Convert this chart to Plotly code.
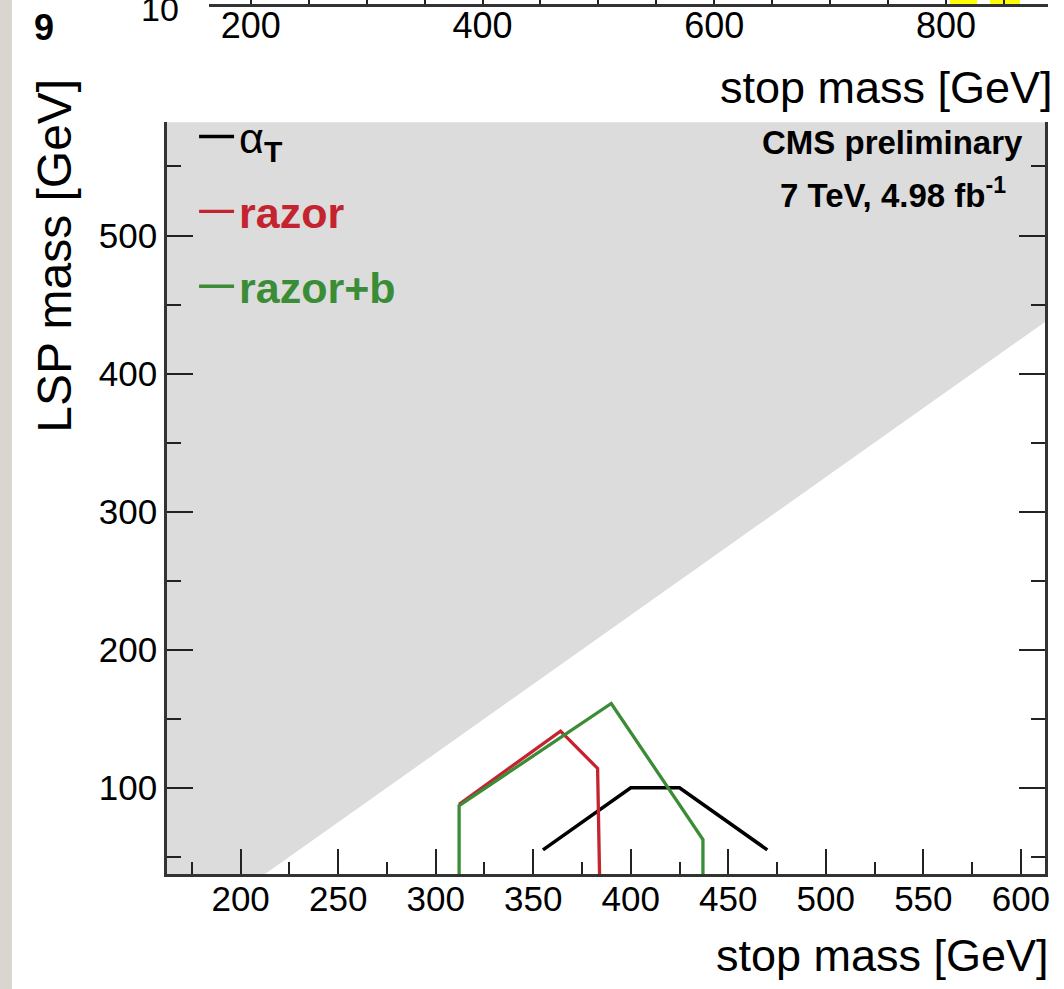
import plotly.graph_objects as go

W, H = 1064, 989

# Exclusion contours in the (stop mass, LSP mass) plane, GeV
alphat_stop = [355, 400, 425, 470]
alphat_lsp = [55, 100, 100, 55]

razor_stop = [312, 364, 383, 384]
razor_lsp = [88, 141, 114, 37.5]

razorb_stop = [312, 312, 390, 437, 437]
razorb_lsp = [37.5, 87, 161, 62.5, 37.5]

# Kinematic boundary m_LSP = m_stop - m_top; the region above it is shaded
m_top = 175

x_range = [162.2, 612.4]
y_range = [37.5, 582]
x_ticks = [200, 250, 300, 350, 400, 450, 500, 550, 600]
x_minor = [175, 225, 275, 325, 375, 425, 475, 525, 575, 625]
y_ticks = [100, 200, 300, 400, 500]
y_minor = [50, 150, 250, 350, 450, 550]

# Lower edge of the panel above (tick labels and band boxes)
upper_range = [164, 888]
upper_ticks = [200, 400, 600, 800]
band_x = [815, 851]
band_w = [24, 26]
band_h = [1, 1]

RED = "#c4242f"
GREEN = "#3b8c37"
SANS = "Liberation Sans, Arial, Helvetica, sans-serif"


def fx(px):
    return px / W


def fy(px):
    return 1 - px / H


# shaded (kinematically forbidden) region, padded beyond the axis ranges
pad = 30
lo_x, hi_x = x_range[0] - pad, x_range[1] + pad
lo_y, hi_y = y_range[0] - pad, y_range[1] + pad
shade_x = [lo_x, lo_y + m_top, hi_x, hi_x, lo_x, lo_x]
shade_y = [lo_y, lo_y, hi_x - m_top, hi_y, hi_y, lo_y]

fig = go.Figure()

fig.add_trace(go.Scatter(
    x=shade_x, y=shade_y, mode="lines", fill="toself",
    fillcolor="#dcdcdc", line=dict(width=0), hoverinfo="skip",
    showlegend=False,
))

fig.add_trace(go.Scatter(
    x=alphat_stop, y=alphat_lsp, mode="lines",
    line=dict(color="black", width=3.5),
    name="α<sub><b>T</b></sub>", legendgroup="a",
))
fig.add_trace(go.Scatter(
    x=razor_stop, y=razor_lsp, mode="lines",
    line=dict(color=RED, width=3.3),
    name=f"<b><span style='color:{RED}'>razor</span></b>", legendgroup="b",
))
fig.add_trace(go.Scatter(
    x=razorb_stop, y=razorb_lsp, mode="lines",
    line=dict(color=GREEN, width=3.3),
    name=f"<b><span style='color:{GREEN}'>razor+b</span></b>", legendgroup="c",
))

# band boxes of the upper panel, peeking above its axis
fig.add_trace(go.Bar(
    x=band_x, y=band_h, width=band_w, marker=dict(color="#ffff00", line=dict(width=0)),
    xaxis="x2", yaxis="y2", showlegend=False, hoverinfo="skip",
))

axis_common = dict(
    showline=True, linecolor="#333333", linewidth=2.5,
    ticks="inside", tickcolor="#222222", tickwidth=2,
    showgrid=False, zeroline=False,
)

fig.update_layout(
    width=W, height=H,
    margin=dict(l=0, r=0, t=0, b=0),
    paper_bgcolor="white", plot_bgcolor="white",
    xaxis=dict(
        domain=[fx(167.7), fx(1050)], range=x_range, anchor="y",
        tickvals=x_ticks, ticklen=25, ticklabelstandoff=-8,
        minor=dict(tickvals=x_minor, ticks="inside", ticklen=12,
                   tickcolor="#222222", tickwidth=2),
        tickfont=dict(family=SANS, size=35, color="black"),
        **axis_common,
    ),
    yaxis=dict(
        domain=[fy(874), fy(122.3)], range=y_range, anchor="x",
        tickvals=y_ticks, ticklen=26, mirror="allticks",
        minor=dict(tickvals=y_minor, ticks="inside", ticklen=14,
                   tickcolor="#222222", tickwidth=2),
        tickfont=dict(family=SANS, size=35, color="black"),
        **axis_common,
    ),
    xaxis2=dict(
        domain=[fx(210), fx(1053)], range=upper_range, anchor="y2",
        tickvals=upper_ticks, ticklen=8, ticklabelstandoff=-12,
        minor=dict(dtick=50, ticks="inside", ticklen=6,
                   tickcolor="#222222", tickwidth=1.5),
        tickfont=dict(family=SANS, size=36, color="black"),
        **axis_common,
    ),
    yaxis2=dict(
        domain=[fy(4), 1], range=[0, 1], anchor="x2", visible=False,
    ),
    bargap=0,
    legend=dict(
        x=fx(195), y=fy(102), xanchor="left", yanchor="top",
        bgcolor="rgba(0,0,0,0)", borderwidth=0,
        font=dict(family=SANS, size=43, color="black"),
        itemwidth=35, tracegroupgap=16,
    ),
    showlegend=True,
)

annotations = [
    dict(text="stop mass [GeV]", x=fx(1056), y=fy(955), xanchor="right", yanchor="middle",
         font=dict(family=SANS, size=45, color="black")),
    dict(text="stop mass [GeV]", x=fx(1060), y=fy(87), xanchor="right", yanchor="middle",
         font=dict(family=SANS, size=45, color="black")),
    dict(text="LSP mass [GeV]", x=fx(54), y=fy(256), xanchor="center", yanchor="middle",
         textangle=-90, font=dict(family=SANS, size=48, color="black")),
    dict(text="<b>CMS preliminary</b>", x=fx(897), y=fy(142), xanchor="center", yanchor="middle",
         font=dict(family=SANS, size=33, color="black")),
    dict(text="<b>7 TeV, 4.98 fb<sup>-1</sup></b>", x=fx(897), y=fy(193), xanchor="center",
         yanchor="middle", font=dict(family=SANS, size=33, color="black")),
    dict(text="<b>9</b>", x=fx(44), y=fy(27), xanchor="center", yanchor="middle",
         font=dict(family=SANS, size=36, color="black")),
    dict(text="10", x=fx(161), y=fy(9), xanchor="center", yanchor="middle",
         font=dict(family=SANS, size=34, color="black")),
]
for a in annotations:
    a.update(xref="paper", yref="paper", showarrow=False)
fig.update_layout(annotations=annotations)

# textured page edge on the left
fig.add_shape(type="rect", xref="paper", yref="paper", x0=0, x1=fx(12), y0=0, y1=1,
              fillcolor="#d9d6d0", line=dict(width=0), layer="below")

fig.write_html("out.html")
